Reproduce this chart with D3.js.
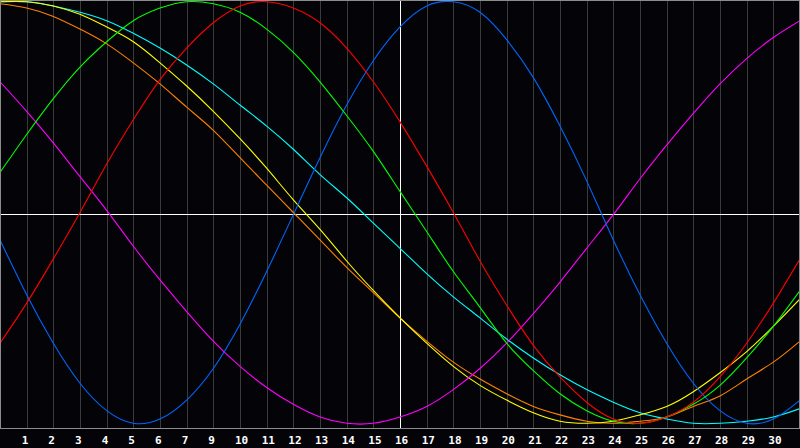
<!DOCTYPE html>
<html lang="en">
<head>
<meta charset="UTF-8">
<script src="https://cdn.jsdelivr.net/npm/d3@7"></script>
<title>Biorhythm</title>
<style>
    body {
        margin: 0;
        padding: 0;
        background: #040408;
    }

    svg {
        display: block;
    }

    .labels text {
        font-family: "DejaVu Sans Mono", monospace;
        font-weight: bold;
        font-size: 11px;
        fill: #ffffff;
    }
</style>
</head>
<body>
<script>

    // day labels under the grid lines (there is no 8 in the picture)
    var dayLabels = ["1", "2", "3", "4", "5", "6", "7", "9", "10", "11", "12", "13", "14", "15",
        "16", "17", "18", "19", "20", "21", "22", "23", "24", "25", "26", "27", "28", "29", "30"]

    // one value per grid step (0..30), in percent
    var blueVals = [-13, -39, -62, -81, -94, -100, -98, -89, -74, -53, -28, -1, 26, 51, 72, 88,
        98, 100, 95, 82, 64, 41, 15, -13, -39, -62, -81, -94, -100, -98, -89]
    var redVals = [-62, -43, -22, 0, 23, 44, 63, 78, 90, 98, 100, 97, 90, 78, 62, 43,
        22, 0, -23, -44, -63, -78, -90, -98, -100, -97, -90, -78, -62, -43, -22]
    var greenVals = [19, 37, 54, 69, 81, 91, 97, 100, 99, 95, 87, 76, 62, 46, 29, 10,
        -9, -28, -45, -62, -75, -86, -94, -99, -100, -97, -91, -82, -69, -54, -37]
    var magentaVals = [62, 48, 33, 17, 1, -16, -32, -47, -61, -73, -83, -91, -97, -100, -100, -97,
        -92, -84, -74, -62, -48, -33, -17, -1, 16, 32, 47, 61, 73, 83, 91]
    var yellowVals = [100, 100, 98, 94, 88, 81, 71, 60, 48, 35, 21, 6, -8, -23, -37, -50,
        -62, -73, -82, -89, -95, -99, -100, -99, -96, -92, -85, -76, -66, -54, -41]
    var orangeVals = [99, 97, 93, 87, 80, 71, 61, 50, 39, 26, 13, 0, -13, -26, -38, -50,
        -61, -71, -79, -86, -92, -96, -99, -100, -99, -97, -92, -87, -79, -71, -61]
    var cyanVals = [100, 100, 98, 95, 91, 85, 78, 70, 61, 51, 41, 30, 18, 7, -5, -17,
        -29, -40, -50, -60, -69, -77, -84, -90, -95, -98, -100, -100, -99, -97, -93]

    var series = [
        { color: '#00ffff', values: cyanVals },
        { color: '#ff8000', values: orangeVals },
        { color: '#ffff00', values: yellowVals },
        { color: '#ff00ff', values: magentaVals },
        { color: '#0066ff', values: blueVals },
        { color: '#00ff00', values: greenVals },
        { color: '#ff0000', values: redVals }
    ]

    var width = 800, height = 448, plotH = 428

    var svg = d3.select('body').append('svg')
        .attr('width', width)
        .attr('height', height)

    var x = d3.scaleLinear().domain([0, 30]).range([0, 800])
    var y = d3.scaleLinear().domain([-100, 100]).range([423.3, 1.7])

    var steps = d3.range(1, 30)

    // vertical grid
    var grid = svg.append('g')
        .attr('transform', 'translate(0,' + plotH + ')')
        .call(d3.axisBottom(x).tickValues(steps).tickSize(-plotH).tickFormat(''))
    grid.select('.domain').remove()
    grid.selectAll('line')
        .attr('stroke', function (d) { return d == 15 ? '#ffffff' : '#3a3a3a' })
        .attr('shape-rendering', 'crispEdges')

    // horizontal centre line
    svg.append('line')
        .attr('x1', 0).attr('x2', 800)
        .attr('y1', 214.5).attr('y2', 214.5)
        .attr('stroke', '#ffffff')
        .attr('shape-rendering', 'crispEdges')

    // curves
    var line = d3.line()
        .x(function (d, i) { return x(i) })
        .y(function (d) { return y(d) })
        .curve(d3.curveNatural)

    svg.selectAll('path.curve')
        .data(series)
        .enter()
        .append('path')
        .attr('class', 'curve')
        .attr('d', function (d) { return line(d.values) })
        .attr('fill', 'none')
        .attr('stroke', function (d) { return d.color })
        .attr('stroke-width', 1.1)

    // frame
    svg.append('rect')
        .attr('x', 0.5).attr('y', 0.5)
        .attr('width', 799).attr('height', plotH)
        .attr('fill', 'none')
        .attr('stroke', '#8c8c8c')
        .attr('shape-rendering', 'crispEdges')

    // day labels
    var labels = svg.append('g')
        .attr('class', 'labels')
        .attr('transform', 'translate(0,' + plotH + ')')
        .call(d3.axisBottom(x).tickValues(steps).tickSize(0)
            .tickFormat(function (d) { return dayLabels[d - 1] }))
    labels.select('.domain').remove()
    labels.selectAll('text')
        .attr('text-anchor', 'start')
        .attr('x', -5.5)
        .attr('y', 15.5)
        .attr('dy', 0)

</script>
</body>
</html>
